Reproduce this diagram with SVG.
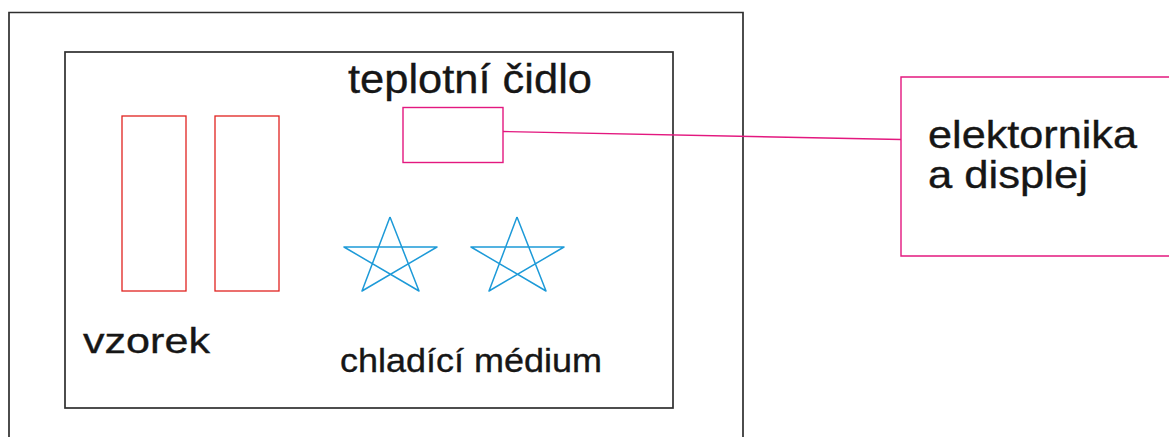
<svg xmlns="http://www.w3.org/2000/svg" width="1169" height="437" viewBox="0 0 1169 437">
  <style>
    .frame { fill: none; stroke: #2e2e2e; stroke-width: 1.7; }
    .sample { fill: none; stroke: #e0231f; stroke-width: 1.3; }
    .pink { fill: none; stroke: #e3187f; stroke-width: 1.4; }
    .star { fill: none; stroke: #1d9ad8; stroke-width: 1.5; stroke-linejoin: round; }
    .label { font-family: "Liberation Sans", Arial, sans-serif; fill: #161616; stroke: #161616; stroke-width: 0.35; }
  </style>
  <rect width="1169" height="437" fill="#ffffff"/>

  <!-- outer housing (open at the bottom edge) -->
  <g id="housing">
    <path class="frame" d="M9,437 V12.5 H743 V437"/>
  </g>

  <!-- cooling chamber -->
  <g id="chamber">
    <rect class="frame" x="65" y="52" width="608" height="356"/>
  </g>

  <!-- samples -->
  <g id="samples">
    <rect class="sample" x="122" y="116" width="64" height="175"/>
    <rect class="sample" x="215" y="116" width="64" height="175"/>
    <text class="label" x="83" y="353" font-size="35" textLength="127" lengthAdjust="spacingAndGlyphs">vzorek</text>
  </g>

  <!-- temperature sensor -->
  <g id="sensor">
    <rect class="pink" x="403" y="107.5" width="100" height="55"/>
    <text class="label" x="348" y="93" font-size="40" textLength="244" lengthAdjust="spacingAndGlyphs">teplotní čidlo</text>
  </g>

  <!-- cooling medium -->
  <g id="medium">
    <polyline class="star" points="390,217 419,291 344,247 437,247 362,291 390,217"/>
    <polyline class="star" points="517,217 546,291 471,247 564,247 489,291 517,217"/>
    <text class="label" x="340" y="372" font-size="33" textLength="262" lengthAdjust="spacingAndGlyphs">chladící médium</text>
  </g>

  <!-- electronics and display unit (extends past the right edge) -->
  <g id="electronics">
    <path class="pink" d="M1169,77 H901 V256 H1169"/>
    <text class="label" x="928" y="148" font-size="39" textLength="209" lengthAdjust="spacingAndGlyphs">elektornika</text>
    <text class="label" x="928" y="188" font-size="39" textLength="160" lengthAdjust="spacingAndGlyphs">a displej</text>
  </g>

  <!-- sensor cable -->
  <g id="connectors">
    <line class="pink" x1="503" y1="131.5" x2="901" y2="139.5"/>
  </g>
</svg>
